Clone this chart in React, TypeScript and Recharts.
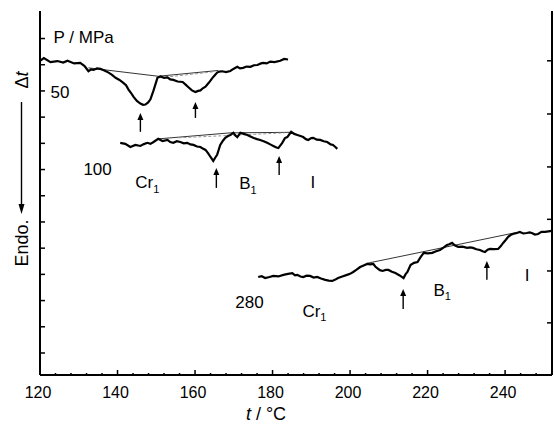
import { LineChart, Line, XAxis, YAxis, ReferenceLine, ReferenceDot, Label } from "recharts";

// DSC-like traces at three pressures, t in °C, v in arbitrary offset units
const trace50 = [
  [120.0, 11.15], [121.0, 11.25], [122.7, 11.1], [124.5, 11.14], [126.0, 11.08], [127.1, 11.15],
  [128.8, 11.05], [130.4, 11.07], [131.5, 10.95], [132.5, 10.75], [133.2, 10.82], [133.8, 10.8],
  [134.7, 10.86], [135.6, 10.84], [136.6, 10.78], [137.7, 10.7], [138.5, 10.62], [139.5, 10.5],
  [140.5, 10.42], [141.5, 10.31], [142.2, 10.22], [142.8, 10.06], [143.5, 9.92], [144.1, 9.78],
  [145.0, 9.62], [145.9, 9.52], [146.6, 9.47], [147.2, 9.48], [147.9, 9.56], [148.5, 9.68],
  [149.3, 10.02], [150.3, 10.5], [151.1, 10.55], [152.0, 10.5], [152.9, 10.52], [153.6, 10.44],
  [154.4, 10.42], [155.5, 10.36], [156.8, 10.34], [157.5, 10.25], [158.3, 10.14], [159.2, 10.02],
  [160.1, 9.96], [160.8, 10.0], [161.4, 10.02], [162.0, 10.1], [162.7, 10.16], [163.6, 10.32],
  [164.5, 10.5], [165.1, 10.6], [165.7, 10.7], [166.3, 10.74], [167.0, 10.75], [168.0, 10.72],
  [169.1, 10.76], [170.0, 10.85], [170.9, 10.92], [171.6, 10.86], [172.4, 10.88], [173.3, 10.93],
  [174.3, 10.92], [175.2, 10.98], [176.1, 10.99], [177.0, 11.05], [177.6, 11.07], [178.5, 11.05],
  [179.4, 11.12], [180.5, 11.1], [182.0, 11.15], [183.0, 11.22], [184.0, 11.2],
];

const trace100 = [
  [140.7, 8.02], [142.0, 7.98], [143.3, 7.86], [144.6, 7.94], [145.9, 7.9], [146.8, 7.97],
  [147.7, 8.02], [148.5, 7.98], [149.3, 8.05], [150.5, 8.17], [151.6, 8.09], [152.9, 8.13],
  [153.6, 8.05], [154.4, 8.02], [155.3, 8.08], [156.2, 8.05], [157.1, 8.0], [158.0, 8.02],
  [158.8, 7.96], [159.6, 7.94], [160.5, 7.88], [161.4, 7.86], [162.0, 7.8], [162.7, 7.75],
  [163.4, 7.62], [164.0, 7.48], [164.7, 7.33], [165.2, 7.45], [165.7, 7.56], [166.5, 7.94],
  [167.2, 8.1], [167.8, 8.21], [168.5, 8.28], [169.1, 8.32], [169.9, 8.4], [170.4, 8.3],
  [170.9, 8.24], [171.7, 8.4], [172.6, 8.36], [173.5, 8.32], [174.3, 8.26], [175.0, 8.21],
  [176.0, 8.16], [176.8, 8.13], [177.7, 8.08], [178.6, 8.02], [179.4, 7.96], [180.2, 7.9],
  [181.0, 7.84], [181.5, 7.82], [182.5, 8.02], [183.2, 8.2], [183.8, 8.24], [184.8, 8.44],
  [185.6, 8.36], [186.4, 8.32], [187.2, 8.28], [187.9, 8.24], [188.6, 8.16], [189.2, 8.13],
  [190.0, 8.2], [190.5, 8.21], [191.4, 8.14], [192.3, 8.13], [193.2, 8.08], [194.1, 8.05],
  [195.0, 7.96], [195.6, 7.94], [196.2, 7.86], [196.7, 7.79],
];

const trace280 = [
  [176.3, 2.9], [177.2, 2.93], [178.1, 2.86], [179.2, 2.9], [180.2, 2.94], [181.5, 2.92],
  [182.8, 2.98], [184.0, 3.02], [185.1, 3.05], [185.8, 2.96], [186.4, 2.98], [187.2, 2.92],
  [187.9, 2.9], [188.8, 2.95], [189.7, 2.94], [190.6, 2.88], [191.5, 2.9], [192.5, 2.84],
  [193.6, 2.79], [194.5, 2.76], [195.4, 2.75], [196.2, 2.8], [196.9, 2.86], [198.0, 2.92],
  [199.2, 2.98], [200.0, 3.02], [200.8, 3.09], [201.7, 3.18], [202.6, 3.28], [203.5, 3.34],
  [204.4, 3.4], [205.2, 3.38], [206.0, 3.4], [206.5, 3.3], [207.0, 3.24], [207.7, 3.16],
  [208.4, 3.13], [209.2, 3.17], [209.9, 3.17], [210.8, 3.1], [211.7, 3.05], [212.8, 2.96],
  [213.8, 2.86], [214.3, 3.0], [214.8, 3.09], [215.6, 3.36], [216.5, 3.44], [217.4, 3.47],
  [218.2, 3.66], [219.0, 3.82], [220.0, 3.8], [221.2, 3.82], [222.2, 3.88], [223.2, 3.93],
  [224.1, 4.02], [225.0, 4.12], [225.6, 4.15], [226.3, 4.2], [227.1, 4.1], [227.9, 4.05],
  [229.0, 4.06], [230.2, 4.01], [231.0, 4.03], [231.7, 4.01], [232.6, 3.96], [233.5, 3.93],
  [234.2, 3.88], [234.8, 3.85], [235.5, 3.94], [236.1, 3.97], [237.1, 3.96], [238.2, 3.97],
  [238.9, 4.08], [239.5, 4.2], [240.2, 4.32], [240.8, 4.43], [241.4, 4.5], [242.0, 4.54],
  [243.0, 4.58], [243.8, 4.62], [244.7, 4.56], [245.6, 4.58], [246.3, 4.6], [246.9, 4.58],
  [247.7, 4.52], [248.5, 4.54], [249.4, 4.62], [250.3, 4.62], [251.2, 4.64], [252.0, 4.66],
];

// thin tangent baselines drawn under the peaks
const base50 = [[132.5, 10.88], [150.5, 10.56], [166.0, 10.78]];
const base100 = [[150.5, 8.17], [169.1, 8.4], [184.5, 8.42]];
const base280 = [[204.3, 3.42], [243.0, 4.6]];
const grey50 = [[151.0, 10.5], [164.7, 10.73]];
const grey100 = [[155.7, 8.21], [183.2, 8.4]];

// arrows marking transitions: position, tip, tail
const arrows = [
  { t: 145.9, tip: 9.16, tail: 8.44 },
  { t: 160.1, tip: 9.58, tail: 8.97 },
  { t: 165.5, tip: 7.06, tail: 6.3 },
  { t: 181.7, tip: 7.52, tail: 6.79 },
  { t: 213.7, tip: 2.44, tail: 1.68 },
  { t: 235.3, tip: 3.51, tail: 2.79 },
];

const notes = [
  { t: 123.5, v: 12.04, text: "P / MPa" },
  { t: 122.7, v: 9.94, text: "50" },
  { t: 131.2, v: 7.02, text: "100" },
  { t: 170.4, v: 1.93, text: "280" },
  { t: 144.6, v: 6.49, text: "Cr", sub: "1" },
  { t: 171.4, v: 6.45, text: "B", sub: "1" },
  { t: 189.8, v: 6.49, text: "I" },
  { t: 187.7, v: 1.6, text: "Cr", sub: "1" },
  { t: 221.5, v: 2.4, text: "B", sub: "1" },
  { t: 245.1, v: 2.94, text: "I" },
];

const xTicks = [
  120, 124, 128, 132, 136, 140, 144, 148, 152, 156, 160, 164, 168, 172, 176, 180, 184, 188,
  192, 196, 200, 204, 208, 212, 216, 220, 224, 228, 232, 236, 240, 244, 248, 252,
];
const leftTicks = [0, 1, 2, 3, 4, 5, 6, 7, 8, 9, 10, 11, 12];
const rightTicks = [1.15, 3.13, 5.1, 7.1, 9.12, 11.15];

const toPts = (arr: number[][]) => arr.map(([t, v]) => ({ t, v }));

const FONT = "'Liberation Sans', Arial, sans-serif";
const X_DOMAIN = [120, 252.1];
const Y_DOMAIN = [-0.84, 13.05];

const XTick = ({ x, y, payload }: any) => {
  const major = payload.value % 20 === 0;
  return (
    <g>
      <line x1={x} x2={x} y1={y} y2={y - (major ? 5 : 2)} stroke="#000" strokeWidth={1.5} />
      {major && payload.value <= 240 && (
        <text x={x - 2} y={y + 23} textAnchor="middle" fontSize={16} fontFamily={FONT} fill="#000">
          {payload.value}
        </text>
      )}
    </g>
  );
};

const LeftTick = ({ x, y }: any) => (
  <line x1={x} x2={x + 5} y1={y} y2={y} stroke="#000" strokeWidth={1.5} />
);

const RightTick = ({ x, y }: any) => (
  <line x1={x} x2={x - 5} y1={y} y2={y} stroke="#000" strokeWidth={1.5} />
);

const ArrowShape = (p: any) => {
  const { x1, y1, x2, y2 } = p;
  const tipY = Math.min(y1, y2);
  const tailY = Math.max(y1, y2);
  return (
    <g>
      <line x1={x1} x2={x2} y1={tailY} y2={tipY + 5} stroke="#000" strokeWidth={1.4} />
      <polygon points={`${x1},${tipY} ${x1 - 3},${tipY + 7} ${x1 + 3},${tipY + 7}`} fill="#000" />
    </g>
  );
};

const NoteShape = (note: any) => (p: any) => (
  <text x={p.cx} y={p.cy} dominantBaseline="central" fontSize={17} fontFamily={FONT} fill="#000">
    {note.text}
    {note.sub && (
      <tspan dy={6} fontSize={11}>
        {note.sub}
      </tspan>
    )}
  </text>
);

const YTitle = () => (
  <g fontFamily={FONT} fill="#000">
    <text transform="translate(22, 243) rotate(-90)" textAnchor="middle" dominantBaseline="central" fontSize={18}>
      Endo.
    </text>
    <line x1={21.5} x2={21.5} y1={102} y2={206} stroke="#000" strokeWidth={1.4} />
    <polygon points="21.5,214 18.5,204 24.5,204" fill="#000" />
    <text transform="translate(22, 80) rotate(-90)" textAnchor="middle" dominantBaseline="central" fontSize={18}>
      Δ<tspan fontStyle="italic">t</tspan>
    </text>
  </g>
);

const XTitle = () => (
  <text x={266} y={414} textAnchor="middle" dominantBaseline="central" fontSize={18} fontFamily={FONT} fill="#000">
    <tspan fontStyle="italic">t</tspan> / °C
  </text>
);

export default function App() {
  return (
    <div style={{ position: "absolute", left: 0, top: 0, background: "#fff" }}>
      <LineChart width={554} height={434} margin={{ top: 11, right: 0, left: 0, bottom: 0 }}>
        <XAxis
          xAxisId="b"
          type="number"
          dataKey="t"
          domain={X_DOMAIN}
          ticks={xTicks}
          interval={0}
          tick={<XTick />}
          tickLine={false}
          tickSize={0}
          tickMargin={0}
          height={59}
          axisLine={{ stroke: "#000", strokeWidth: 2 }}
          allowDataOverflow
        >
          <Label content={<XTitle />} />
        </XAxis>
        <XAxis
          xAxisId="top"
          orientation="top"
          type="number"
          dataKey="t"
          domain={X_DOMAIN}
          tick={false}
          tickLine={false}
          height={0}
          axisLine={{ stroke: "#000", strokeWidth: 2 }}
          allowDataOverflow
        />
        <YAxis
          yAxisId="left"
          type="number"
          domain={Y_DOMAIN}
          ticks={leftTicks}
          interval={0}
          tick={<LeftTick />}
          tickLine={false}
          tickSize={0}
          tickMargin={0}
          width={40}
          axisLine={{ stroke: "#000", strokeWidth: 2 }}
          allowDataOverflow
        >
          <Label content={<YTitle />} />
        </YAxis>
        <YAxis
          yAxisId="right"
          orientation="right"
          type="number"
          domain={Y_DOMAIN}
          ticks={rightTicks}
          interval={0}
          tick={<RightTick />}
          tickLine={false}
          tickSize={0}
          tickMargin={0}
          width={2}
          axisLine={{ stroke: "#000", strokeWidth: 2 }}
          allowDataOverflow
        />

        {[base50, base100, base280].map((b, i) => (
          <Line
            key={"base" + i}
            xAxisId="b"
            yAxisId="left"
            data={toPts(b)}
            dataKey="v"
            type="linear"
            stroke="#000"
            strokeWidth={0.8}
            dot={false}
            isAnimationActive={false}
          />
        ))}
        {[grey50, grey100].map((b, i) => (
          <Line
            key={"grey" + i}
            xAxisId="b"
            yAxisId="left"
            data={toPts(b)}
            dataKey="v"
            type="linear"
            stroke="#999"
            strokeWidth={1}
            strokeDasharray="3 2"
            dot={false}
            isAnimationActive={false}
          />
        ))}
        {[trace50, trace100, trace280].map((tr, i) => (
          <Line
            key={"tr" + i}
            xAxisId="b"
            yAxisId="left"
            data={toPts(tr)}
            dataKey="v"
            type="linear"
            stroke="#000"
            strokeWidth={2.2}
            dot={false}
            isAnimationActive={false}
          />
        ))}

        {arrows.map((a, i) => (
          <ReferenceLine
            key={"ar" + i}
            xAxisId="b"
            yAxisId="left"
            segment={[
              { x: a.t, y: a.tail },
              { x: a.t, y: a.tip },
            ]}
            shape={ArrowShape}
          />
        ))}
        {notes.map((n, i) => (
          <ReferenceDot
            key={"n" + i}
            xAxisId="b"
            yAxisId="left"
            x={n.t}
            y={n.v}
            r={0}
            shape={NoteShape(n)}
          />
        ))}
      </LineChart>
    </div>
  );
}
